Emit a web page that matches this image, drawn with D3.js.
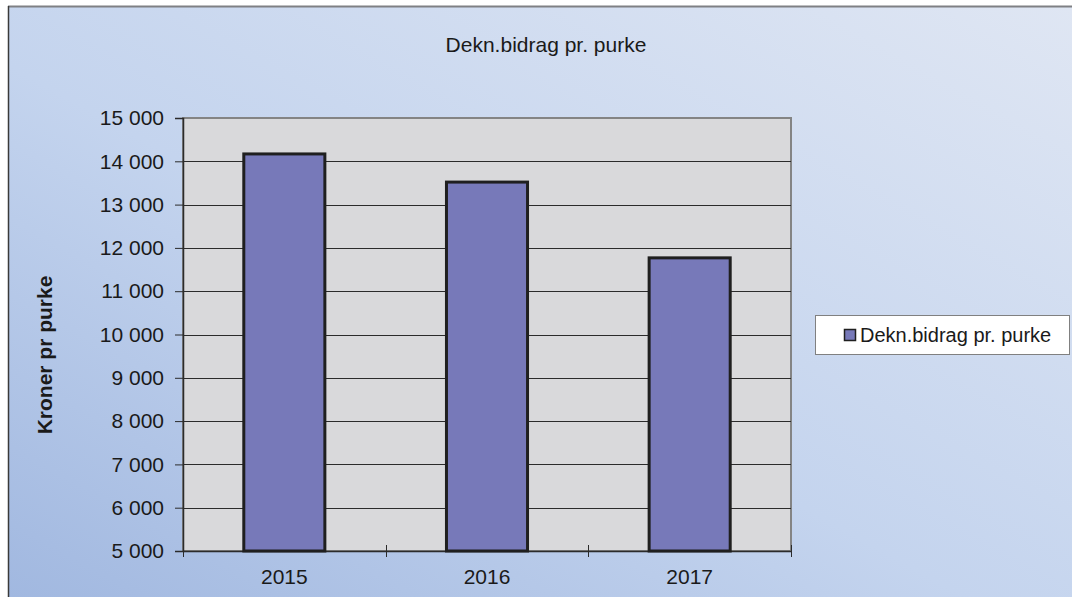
<!DOCTYPE html>
<html>
<head>
<meta charset="utf-8">
<script src="https://cdn.jsdelivr.net/npm/d3@7"></script>
<style>
  body { margin: 0; background: #ffffff; }
  svg { display: block; font-family: "Liberation Sans", Arial, sans-serif; }
</style>
</head>
<body>
<div id="chart"></div>
<script>
// data
const years = ["2015", "2016", "2017"];
const values = [14170, 13520, 11770];
const yTicks = [5000, 6000, 7000, 8000, 9000, 10000, 11000, 12000, 13000, 14000, 15000];
const seriesName = "Dekn.bidrag pr. purke";
const chartTitle = "Dekn.bidrag pr. purke";
const yTitle = "Kroner pr purke";

const width = 1072, height = 597;
const plot = { left: 183, top: 118, right: 791, bottom: 551 };

const svg = d3.select("#chart").append("svg")
  .attr("width", width)
  .attr("height", height);

// background gradient
const defs = svg.append("defs");
const grad = defs.append("linearGradient")
  .attr("id", "bg")
  .attr("x1", "0%").attr("y1", "100%")
  .attr("x2", "100%").attr("y2", "0%");
grad.append("stop").attr("offset", "0%").attr("stop-color", "#a1b8e0");
grad.append("stop").attr("offset", "45%").attr("stop-color", "#c4d4ee");
grad.append("stop").attr("offset", "100%").attr("stop-color", "#dfe6f3");

svg.append("rect")
  .attr("x", 8).attr("y", 6)
  .attr("width", width - 8).attr("height", height - 6)
  .attr("fill", "url(#bg)");
svg.append("line")
  .attr("x1", 8).attr("x2", width).attr("y1", 6.5).attr("y2", 6.5)
  .attr("stroke", "#7f8084").attr("stroke-width", 2);
svg.append("line")
  .attr("x1", 8.5).attr("x2", 8.5).attr("y1", 6).attr("y2", height)
  .attr("stroke", "#3a3a3a").attr("stroke-width", 1.5);

// scales
const xScale = d3.scaleBand()
  .domain(years)
  .range([plot.left, plot.right])
  .paddingInner(0).paddingOuter(0);

const yScale = d3.scaleLinear()
  .domain([5000, 15000])
  .range([plot.bottom, plot.top]);

// plot area
svg.append("rect")
  .attr("x", plot.left).attr("y", plot.top)
  .attr("width", plot.right - plot.left).attr("height", plot.bottom - plot.top)
  .attr("fill", "#d9d9db")
  .attr("stroke", "#848484").attr("stroke-width", 2);

// gridlines
svg.append("g")
  .selectAll("line")
  .data(yTicks.slice(1, -1))
  .enter().append("line")
  .attr("x1", plot.left).attr("x2", plot.right)
  .attr("y1", d => Math.round(yScale(d)) + 0.5)
  .attr("y2", d => Math.round(yScale(d)) + 0.5)
  .attr("stroke", "#2b2b2b").attr("stroke-width", 1);

// y axis
const yAxis = d3.axisLeft(yScale)
  .tickValues(yTicks)
  .tickSize(8)
  .tickPadding(11)
  .tickFormat(d => d3.format(",")(d).replace(",", " "));

const gy = svg.append("g")
  .attr("transform", `translate(${plot.left},0)`)
  .call(yAxis);
gy.attr("font-size", null).attr("font-family", null);
gy.select(".domain").attr("stroke", "#2b2b2b").attr("stroke-width", 1.5);
gy.selectAll(".tick line").attr("stroke", "#2b2b2b");
gy.selectAll("text")
  .style("font-size", "21px")
  .attr("fill", "#1a1a1a");

// x axis
const gx = svg.append("g");
gx.append("line")
  .attr("x1", plot.left).attr("x2", plot.right)
  .attr("y1", plot.bottom + 0.5).attr("y2", plot.bottom + 0.5)
  .attr("stroke", "#2b2b2b").attr("stroke-width", 1.5);
const boundaries = years.map(d => xScale(d)).concat([plot.right]);
gx.selectAll(".xtick")
  .data(boundaries)
  .enter().append("line")
  .attr("x1", d => Math.round(d) + 0.5).attr("x2", d => Math.round(d) + 0.5)
  .attr("y1", plot.bottom - 6).attr("y2", plot.bottom + 6)
  .attr("stroke", "#2b2b2b");
gx.selectAll(".xlabel")
  .data(years)
  .enter().append("text")
  .attr("x", d => xScale(d) + xScale.bandwidth() / 2)
  .attr("y", 584)
  .attr("text-anchor", "middle")
  .style("font-size", "21px")
  .attr("fill", "#1a1a1a")
  .text(d => d);

// bars
const barW = xScale.bandwidth() * 0.4;
svg.append("g")
  .selectAll("rect")
  .data(years.map((y, i) => ({ year: y, value: values[i] })))
  .enter().append("rect")
  .attr("x", d => xScale(d.year) + (xScale.bandwidth() - barW) / 2)
  .attr("y", d => yScale(d.value))
  .attr("width", barW)
  .attr("height", d => yScale(5000) - yScale(d.value))
  .attr("fill", "#7779b9")
  .attr("stroke", "#1f1f1f")
  .attr("stroke-width", 3);

// title
svg.append("text")
  .attr("x", 546).attr("y", 52)
  .attr("text-anchor", "middle")
  .style("font-size", "21px")
  .attr("fill", "#1a1a1a")
  .text(chartTitle);

// y title
svg.append("text")
  .attr("transform", "translate(52,355) rotate(-90)")
  .attr("text-anchor", "middle")
  .style("font-size", "21px")
  .attr("font-weight", "bold")
  .attr("fill", "#1a1a1a")
  .text(yTitle);

// legend
const lg = svg.append("g").attr("transform", "translate(815,315)");
lg.append("rect")
  .attr("x", 0.5).attr("y", 0.5)
  .attr("width", 254).attr("height", 39)
  .attr("fill", "#ffffff")
  .attr("stroke", "#808080");
lg.append("rect")
  .attr("x", 29.5).attr("y", 14.5)
  .attr("width", 11).attr("height", 11)
  .attr("fill", "#7779b9")
  .attr("stroke", "#1f1f1f").attr("stroke-width", 1.5);
lg.append("text")
  .attr("x", 45).attr("y", 27)
  .style("font-size", "20px")
  .attr("fill", "#1a1a1a")
  .text(seriesName);
</script>
</body>
</html>
